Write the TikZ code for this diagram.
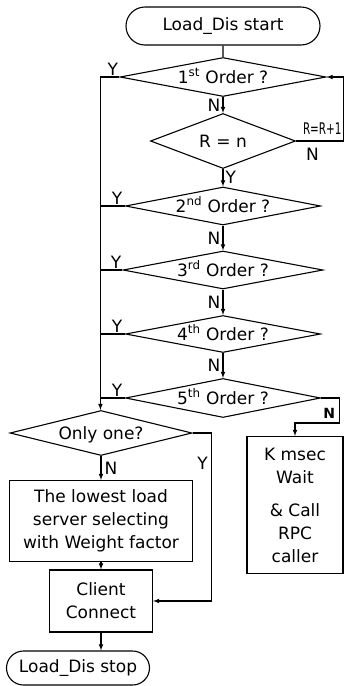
\documentclass[tikz,border=0pt]{standalone}
\usepackage{fontspec}
\setsansfont{DejaVu Sans}
\usetikzlibrary{shapes.geometric,shapes.misc,calc}

\begin{document}
\begin{tikzpicture}[
  term/.style={rounded rectangle, draw, minimum width=194pt, minimum height=38pt, inner sep=0pt},
  dec/.style={diamond, draw, aspect=5, inner sep=0pt, text height=12pt, text depth=0pt},
  block/.style={rectangle, draw, align=center, inner sep=0pt},
  font=\sffamily\fontsize{17}{23}\selectfont,
  line width=1.1pt, >=latex
]
\useasboundingbox (0,0) rectangle (344pt,-686pt);

% Start
\node[term] (start) at (223pt,-26pt) {Load\_Dis start};

% Order checks
\node[dec, minimum width=206pt, minimum height=39pt, below of=start, node distance=51pt] (o1) {1\textsuperscript{st} Order ?};
\node[dec, minimum width=145pt, minimum height=55pt, below of=o1, node distance=64pt] (rn) {R = n};
\node[dec, minimum width=195pt, minimum height=38pt, below of=rn, node distance=65pt] (o2) {2\textsuperscript{nd} Order ?};
\node[dec, minimum width=200pt, minimum height=38pt, below of=o2, node distance=64pt] (o3) {3\textsuperscript{rd} Order ?};
\node[dec, minimum width=195pt, minimum height=37pt, below of=o3, node distance=64pt] (o4) {4\textsuperscript{th} Order ?};
\node[dec, minimum width=195pt, minimum height=39pt, below of=o4, node distance=64pt] (o5) {5\textsuperscript{th} Order ?};

% Selection
\node[dec, minimum width=182pt, minimum height=45pt, below of=o5, node distance=35pt, xshift=-122pt] (only) {Only one?};
\node[block, minimum width=183pt, minimum height=81pt, below of=only, node distance=88pt] (low) {The lowest load\\server selecting\\with Weight factor};
\node[block, minimum width=103pt, minimum height=62pt, below of=low, node distance=80pt] (cc) {Client\\Connect};
\node[term, minimum width=143pt, minimum height=34pt, below of=cc, node distance=67pt, xshift=-23pt] (stop) {Load\_Dis stop};

% Wait
\node[block, minimum width=96pt, minimum height=137pt, below of=o5, node distance=107pt, xshift=72pt] (wait) {K msec\\Wait\\[10pt]\& Call\\RPC\\caller};

\coordinate (bus) at ($(o1.west)+(-19pt,0)$);
\coordinate (loop) at ($(rn.east)+(47pt,0)$);

% Connections
\draw (start) -- (o1);
\draw[->] (o1) -- (rn) node[left,midway,inner sep=2pt] {N};
\draw[->] (rn) -- (o2) node[right,midway,inner sep=2pt] {Y};
\draw[->] (o2) -- (o3) node[left,midway,inner sep=2pt] {N};
\draw[->] (o3) -- (o4) node[left,midway,inner sep=2pt] {N};
\draw[->] (o4) -- (o5) node[left,midway,inner sep=2pt] {N};
\draw[->] (rn.east) -- node[below,pos=0.35,yshift=-3pt] {N} (loop)
  node[above left,inner sep=1pt,yshift=5pt,font=\sffamily\fontsize{16}{18}\selectfont] {\scalebox{0.65}[1]{R=R+1}} |- (o1.east);
\draw (o1.west) -- (bus) node[above right,pos=0.7,inner sep=1pt] {Y};
\draw (o2.west) -- (o2.west -| bus) node[above right,pos=0.6,inner sep=1pt] {Y};
\draw (o3.west) -- (o3.west -| bus) node[above right,pos=0.6,inner sep=1pt] {Y};
\draw (o4.west) -- (o4.west -| bus) node[above right,pos=0.6,inner sep=1pt] {Y};
\draw (o5.west) -- (o5.west -| bus) node[above right,pos=0.6,inner sep=1pt] {Y};
\draw[->] (bus) -- (bus |- only.north);
\draw[->] (o5.east) -- ++(18pt,0)
  node[below left,yshift=-6pt,font=\sffamily\bfseries\fontsize{14}{16}\selectfont] {N}
  -- ++(0,-25pt) -| (wait.north);
\draw[->] (only.east) -- ++(19pt,0) |- node[left,pos=0.09] {Y} (cc.east);
\draw[->] (only) -- (low) node[right,midway,inner sep=3pt] {N};
\draw[->] (low) -- (cc);
\draw[->] (cc.south) -- (cc.south |- stop.north);
\end{tikzpicture}
\end{document}
